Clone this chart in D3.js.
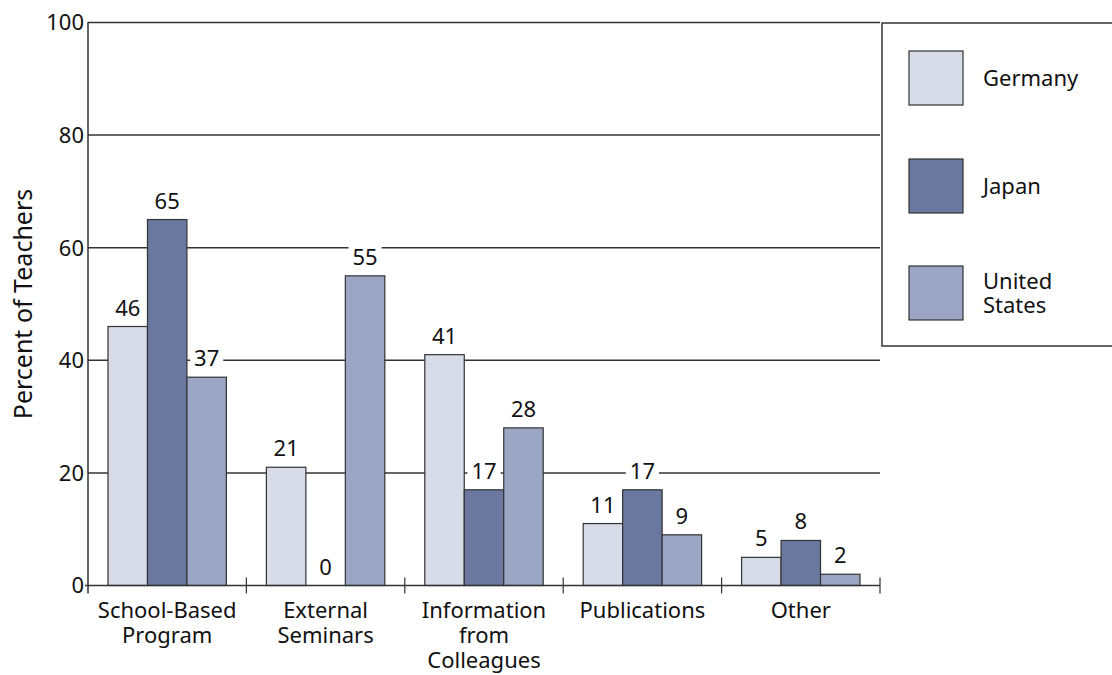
<!DOCTYPE html>
<html><head><meta charset="utf-8">
<script src="https://cdn.jsdelivr.net/npm/d3@7"></script>
<style>body{margin:0;background:#fff}svg{display:block}text{font-family:"Noto Sans",sans-serif;fill:#111}</style>
</head><body><svg id="c" width="1112" height="675"></svg>
<script>
const categories = [["School-Based","Program"],["External","Seminars"],["Information","from","Colleagues"],["Publications"],["Other"]];
const seriesNames = ["Germany","Japan","United States"];
const germany = [46,21,41,11,5];
const japan = [65,0,17,17,8];
const unitedStates = [37,55,28,9,2];
const yTicks = [0,20,40,60,80,100];
const colors = ["#d8dce8","#6a789f","#9ba6c4"];

const svg = d3.select("#c");
const L=88,R=880,T=22.5,B=585.5;
const FS=22;
const x = d3.scaleBand().domain(d3.range(categories.length)).range([L,R]).paddingInner(0).paddingOuter(0);
const xs = d3.scaleBand().domain(d3.range(3)).range([20, x.bandwidth()-20]);
const y = d3.scaleLinear().domain([0,100]).range([B,T]);
const series=[germany,japan,unitedStates];

// gridlines
svg.append("g").selectAll("line").data(yTicks.filter(d=>d>0)).join("line")
 .attr("x1",L).attr("x2",R).attr("y1",d=>y(d)).attr("y2",d=>y(d))
 .attr("stroke","#333").attr("stroke-width",1.5);

// y tick labels
svg.append("g").selectAll("text").data(yTicks).join("text")
 .attr("x",L-4).attr("y",d=>y(d)).attr("dy","0.36em").attr("text-anchor","end")
 .attr("font-size",FS).text(d=>d);
svg.append("line").attr("x1",L-3).attr("x2",L).attr("y1",B).attr("y2",B).attr("stroke","#333").attr("stroke-width",1.5);

// bars
const g = svg.append("g");
series.forEach((s,si)=>{
  g.selectAll(null).data(s).join("rect")
   .attr("x",(d,i)=>x(i)+xs(si)).attr("width",xs.bandwidth())
   .attr("y",d=>y(d)).attr("height",d=>B-y(d))
   .attr("fill",colors[si]).attr("stroke","#333").attr("stroke-width",1.2);
});
// value labels
series.forEach((s,si)=>{
  s.forEach((v,i)=>{
    const cx=x(i)+xs(si)+xs.bandwidth()/2, cy=y(v)-11;
    const t=svg.append("text").attr("x",cx).attr("y",cy).attr("text-anchor","middle").attr("font-size",FS).text(v);
    const bb=t.node().getBBox();
    svg.insert("rect",()=>t.node()).attr("x",bb.x-4).attr("y",bb.y).attr("width",bb.width+8).attr("height",bb.height).attr("fill","#fff");
  });
});

// axes lines
svg.append("line").attr("x1",L).attr("x2",L).attr("y1",T-0.5).attr("y2",B+8).attr("stroke","#333").attr("stroke-width",1.5);
svg.append("line").attr("x1",L).attr("x2",R).attr("y1",B).attr("y2",B).attr("stroke","#333").attr("stroke-width",1.5);
const bounds = d3.range(categories.length+1).map(i=>i<categories.length?x(i):R);
svg.append("g").selectAll("line").data(bounds.slice(1)).join("line")
 .attr("x1",d=>d).attr("x2",d=>d).attr("y1",B-8).attr("y2",B+8).attr("stroke","#333").attr("stroke-width",1.2);

// category labels
categories.forEach((lines,i)=>{
  const t=svg.append("text").attr("text-anchor","middle").attr("font-size",FS);
  lines.forEach((ln,k)=>t.append("tspan").attr("x",x(i)+x.bandwidth()/2).attr("y",618+k*25).text(ln));
});

// y title
svg.append("text").attr("transform","translate(32,304) rotate(-90)").attr("text-anchor","middle").attr("font-size",25).text("Percent of Teachers");

// legend
svg.append("rect").attr("x",882).attr("y",23).attr("width",240).attr("height",323).attr("fill","#fff").attr("stroke","#333").attr("stroke-width",1.5);
const ly=[51,159,266];
seriesNames.forEach((n,i)=>{
  svg.append("rect").attr("x",909).attr("y",ly[i]).attr("width",54).attr("height",54).attr("fill",colors[i]).attr("stroke","#333").attr("stroke-width",1.2);
  const parts = n==="United States"?["United","States"]:[n];
  const t=svg.append("text").attr("font-size",FS);
  parts.forEach((p,k)=>t.append("tspan").attr("x",983).attr("y",ly[i]+27+8-(parts.length-1)*12+k*24).text(p));
});
</script></body></html>
